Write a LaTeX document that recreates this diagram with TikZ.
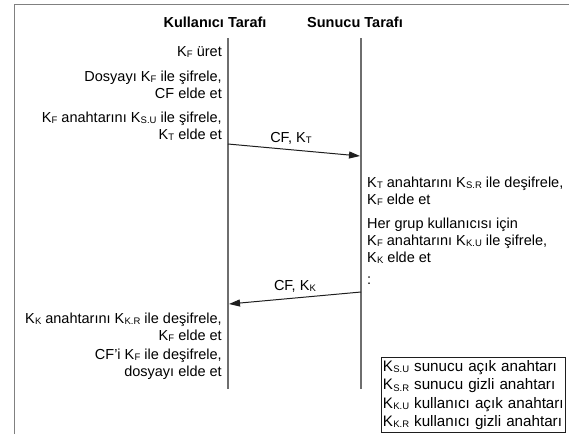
\documentclass[tikz,border=0pt]{standalone}
\usepackage{fontspec}
\setmainfont{Liberation Sans}
\usetikzlibrary{arrows.meta}
\newcommand{\Ksub}[1]{K\kern0.2pt\raisebox{-1.3pt}{\fontsize{9.5}{9.5}\selectfont #1}}
\definecolor{framegray}{RGB}{128,128,128}
\definecolor{lifegray}{RGB}{110,110,110}
\definecolor{msgcol}{RGB}{30,30,30}
\begin{document}
\begin{tikzpicture}[x=1pt,y=-1pt,
  txt/.style={font=\fontsize{14.5}{17}\selectfont, inner sep=0pt},
  lefttxt/.style={txt, anchor=north east, align=right},
  righttxt/.style={txt, anchor=north west, align=left},
  head/.style={font=\fontsize{14.5}{17}\selectfont\bfseries, inner sep=0pt, anchor=base},
  frame/.style={draw=framegray, line width=1.6pt},
  life/.style={draw=lifegray, line width=1.2pt},
  msg/.style={draw=msgcol, line width=1pt, -{Triangle[length=11pt,width=7pt]}},
  lbl/.style={txt, anchor=base, yshift=8pt},
  legendbox/.style={draw=msgcol, line width=0.9pt, font=\fontsize{15.2}{18.3}\selectfont,
    text width=181pt, align=left, inner xsep=1.5pt, inner ysep=0pt,
    minimum height=75pt, anchor=north west}
]
\useasboundingbox (0,0) rectangle (569,434);
\draw[frame] (14.5,434) -- (14.5,4.5) -- (569,4.5);

% headers
\node[head] (hk) at (215,27) {Kullanıcı Tarafı};
\node[head] (hs) at (355,27) {Sunucu Tarafı};

% lifelines
\coordinate (kt) at (228,38);
\coordinate (kb) at (228,389);
\coordinate (st) at (361,38);
\coordinate (sb) at (361,389);
\draw[life] (kt) -- (kb);
\draw[life] (st) -- (sb);

% client steps
\node[lefttxt] (c1) at (222,46.5) {\Ksub{F} üret};
\node[lefttxt] (c2) at (222,70.5) {Dosyayı \Ksub{F} ile şifrele,\\CF elde et};
\node[lefttxt] (c3) at (222,111.5) {\Ksub{F} anahtarını \Ksub{S.U} ile şifrele,\\\Ksub{T} elde et};

% message 1
\coordinate (m1a) at (228,144);
\coordinate (m1b) at (360,156);
\draw[msg] (m1a) -- node[lbl, xshift=-3pt] (l1) {CF, \Ksub{T}} (m1b);

% server steps
\node[righttxt] (s1) at (367,176.5) {\Ksub{T} anahtarını \Ksub{S.R} ile deşifrele,\\\Ksub{F} elde et};
\node[righttxt] (s2) at (367,217.5) {Her grup kullanıcısı için\\\Ksub{F} anahtarını \Ksub{K.U} ile şifrele,\\\Ksub{K} elde et};
\node[txt, anchor=base west] (s3) at (367,284) {:};

% message 2
\coordinate (m2a) at (361,292);
\coordinate (m2b) at (229,304);
\draw[msg] (m2a) -- node[lbl] (l2) {CF, \Ksub{K}} (m2b);

% client final steps
\node[lefttxt] (c4) at (222,312.5) {\Ksub{K} anahtarını \Ksub{K.R} ile deşifrele,\\\Ksub{F} elde et};
\node[lefttxt] (c5) at (222,348.5) {CF’i \Ksub{F} ile deşifrele,\\dosyayı elde et};

% legend
\node[legendbox] (leg) at (381,357) {\Ksub{S.U} sunucu açık anahtarı\\\Ksub{S.R} sunucu gizli anahtarı\\\Ksub{K.U} kullanıcı açık anahtarı\\\Ksub{K.R} kullanıcı gizli anahtarı};
\end{tikzpicture}
\end{document}
